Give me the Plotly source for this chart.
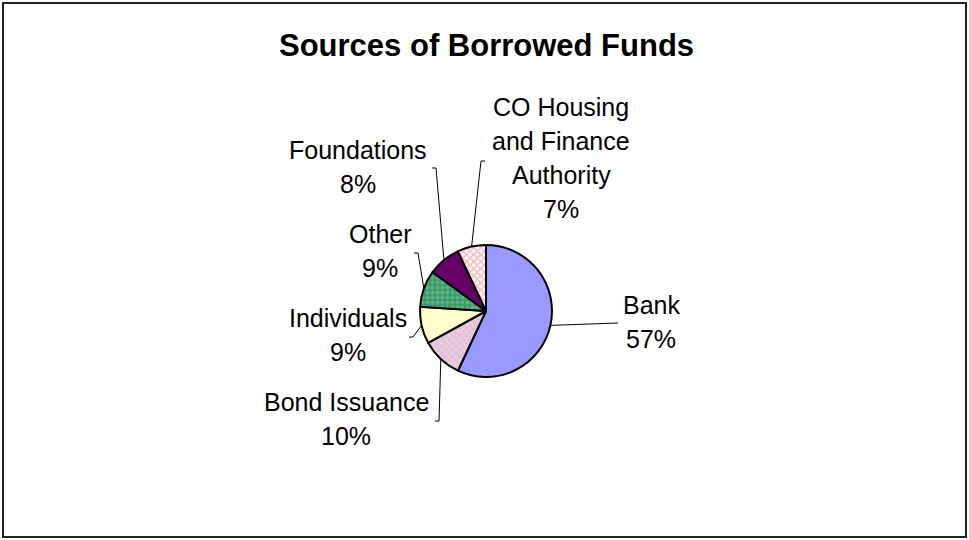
import math
import plotly.graph_objects as go

# ---- data ----
labels = ["Bank", "Bond Issuance", "Individuals", "Other", "Foundations",
          "CO Housing and Finance Authority"]
values = [57, 10, 9, 9, 8, 7]
label_lines = [["Bank", "57%"], ["Bond Issuance", "10%"], ["Individuals", "9%"],
               ["Other", "9%"], ["Foundations", "8%"],
               ["CO Housing", "and Finance", "Authority", "7%"]]

# ---- styles ----
W, H = 969, 540
colors = ["#9999FF", "#E4C2D5", "#FFFFCC", "#3A9A68", "#660066", "#FFFFFF"]
pat_shapes = ["", "x", "", ".", "", "x"]
pat_fg = ["#9999FF", "#F6ECF2", "#FFFFCC", "#7CC79E", "#660066", "#EE7777"]
pat_solid = [0.3, 0.3, 0.3, 0.45, 0.3, 0.55]

cx, cy, R = 486, 311, 66  # pie center / radius in px

# label placement (px): center x, first-line y, elbow point, tick end
label_pos = {
    "Bank": dict(x=651, y=305, elbow=(618, 323), tick=None),
    "Bond Issuance": dict(x=346, y=402, elbow=(439, 421), tick=(435, 421)),
    "Individuals": dict(x=348, y=318, elbow=(413, 337), tick=(409, 337)),
    "Other": dict(x=380, y=234, elbow=(418, 253), tick=(414, 253)),
    "Foundations": dict(x=358, y=150, elbow=(436, 168), tick=(432, 168)),
    "CO Housing and Finance Authority": dict(x=561, y=107, elbow=(481, 161), tick=(485, 161)),
}
line_h = 34
FONT = "Liberation Sans, Arial, sans-serif"


def px(x):
    return x / W


def py(y):
    return 1 - y / H


fig = go.Figure(go.Pie(
    labels=labels, values=values, sort=False, direction="clockwise", rotation=0,
    textinfo="none", hoverinfo="skip", showlegend=False,
    marker=dict(colors=colors, line=dict(color="black", width=2),
                pattern=dict(shape=pat_shapes, fgcolor=pat_fg, size=5, solidity=pat_solid,
                             fillmode="overlay")),
    domain=dict(x=[px(cx - R), px(cx + R)], y=[py(cy + R), py(cy - R)]),
))

shapes = [dict(type="rect", xref="paper", yref="paper", x0=px(3), x1=px(966),
               y0=py(537), y1=py(3), line=dict(color="#222", width=2))]
annotations = [dict(text="<b>Sources of Borrowed Funds</b>", x=px(487), y=py(45),
                    xref="paper", yref="paper", showarrow=False,
                    font=dict(family=FONT, size=31, color="black"),
                    xanchor="center", yanchor="middle")]

total = sum(values)
cum = 0
for lab, v, lines in zip(labels, values, label_lines):
    mid = cum + v / 2
    cum += v
    ang = math.radians(90 - 360 * mid / total)
    ex, ey = cx + R * math.cos(ang), cy - R * math.sin(ang)
    p = label_pos[lab]
    bx, by = p["elbow"]
    shapes.append(dict(type="line", xref="paper", yref="paper", x0=px(ex), y0=py(ey),
                       x1=px(bx), y1=py(by), line=dict(color="black", width=1)))
    if p["tick"]:
        tx, ty = p["tick"]
        shapes.append(dict(type="line", xref="paper", yref="paper", x0=px(bx), y0=py(by),
                           x1=px(tx), y1=py(ty), line=dict(color="black", width=1)))
    for i, t in enumerate(lines):
        annotations.append(dict(text=t, x=px(p["x"]), y=py(p["y"] + i * line_h),
                                xref="paper", yref="paper", showarrow=False,
                                font=dict(family=FONT, size=25, color="black"),
                                xanchor="center", yanchor="middle"))

fig.update_layout(width=W, height=H, margin=dict(l=0, r=0, t=0, b=0),
                  paper_bgcolor="white", plot_bgcolor="white",
                  shapes=shapes, annotations=annotations)
fig.write_html("out.html")
